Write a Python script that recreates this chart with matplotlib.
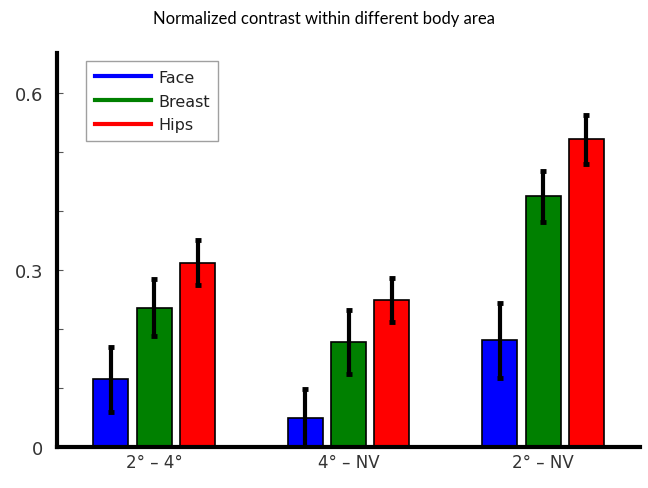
import matplotlib
matplotlib.use("Agg")
import matplotlib.pyplot as plt
import numpy as np
from matplotlib.lines import Line2D

# data
groups = ["2\u00b0 \u2013 4\u00b0", "4\u00b0 \u2013 NV", "2\u00b0 \u2013 NV"]
series = ["Face", "Breast", "Hips"]
colors = ["#0000ff", "#008000", "#ff0000"]
face = [0.115, 0.049, 0.181]
breast = [0.236, 0.178, 0.425]
hips = [0.312, 0.249, 0.521]
face_err = [0.055, 0.050, 0.064]
breast_err = [0.048, 0.054, 0.043]
hips_err = [0.038, 0.037, 0.042]

values = [face, breast, hips]
errors = [face_err, breast_err, hips_err]

fig = plt.figure(figsize=(6.48, 4.89), dpi=100)
ax = fig.add_axes([0.088, 0.0832, 0.900, 0.806])

x = np.arange(1, len(groups) + 1)
offset = 0.223
width = 0.18
for i, (vals, errs, c) in enumerate(zip(values, errors, colors)):
    pos = x + (i - 1) * offset
    ax.bar(pos, vals, width=width, color=c, edgecolor="black", linewidth=1.2, zorder=2)
    ax.errorbar(pos, vals, yerr=errs, fmt="none", ecolor="black",
                elinewidth=3, capsize=2.5, capthick=3.5, zorder=3)

ax.set_xlim(0.5, 3.5)
ax.set_ylim(0, 0.667)

ax.set_xticks(x)
ax.set_xticklabels(groups, fontsize=12, color="#333333")
ax.set_yticks([0, 0.3, 0.6])
ax.set_yticklabels(["0", "0.3", "0.6"], fontsize=13, color="#333333")
ax.set_yticks([0.1, 0.2, 0.4, 0.5], minor=True)
ax.tick_params(axis="y", which="both", direction="in", length=4, width=0.8,
               color="#555555", pad=10)
ax.tick_params(axis="x", direction="in", length=4, width=3, color="black", pad=4)

for side in ["top", "right"]:
    ax.spines[side].set_visible(False)
for side in ["left", "bottom"]:
    ax.spines[side].set_linewidth(3)
    ax.spines[side].set_zorder(4)

fig.text(0.5, 0.962, "Normalized contrast within different body area",
         ha="center", va="center", fontsize=12, family=["Lato", "DejaVu Sans"])

handles = [Line2D([0], [0], color=c, linewidth=3) for c in colors]
leg = ax.legend(handles, series, loc="upper left", bbox_to_anchor=(0.05, 0.98),
                borderaxespad=0, fontsize=11.5, handlelength=3.5, handletextpad=0.45,
                labelspacing=0.55, borderpad=0.55, fancybox=False, frameon=True)
leg.get_frame().set_edgecolor("#888888")
leg.get_frame().set_linewidth(1)
for t in leg.get_texts():
    t.set_color("#222222")

fig.savefig("out.png", dpi=100)
